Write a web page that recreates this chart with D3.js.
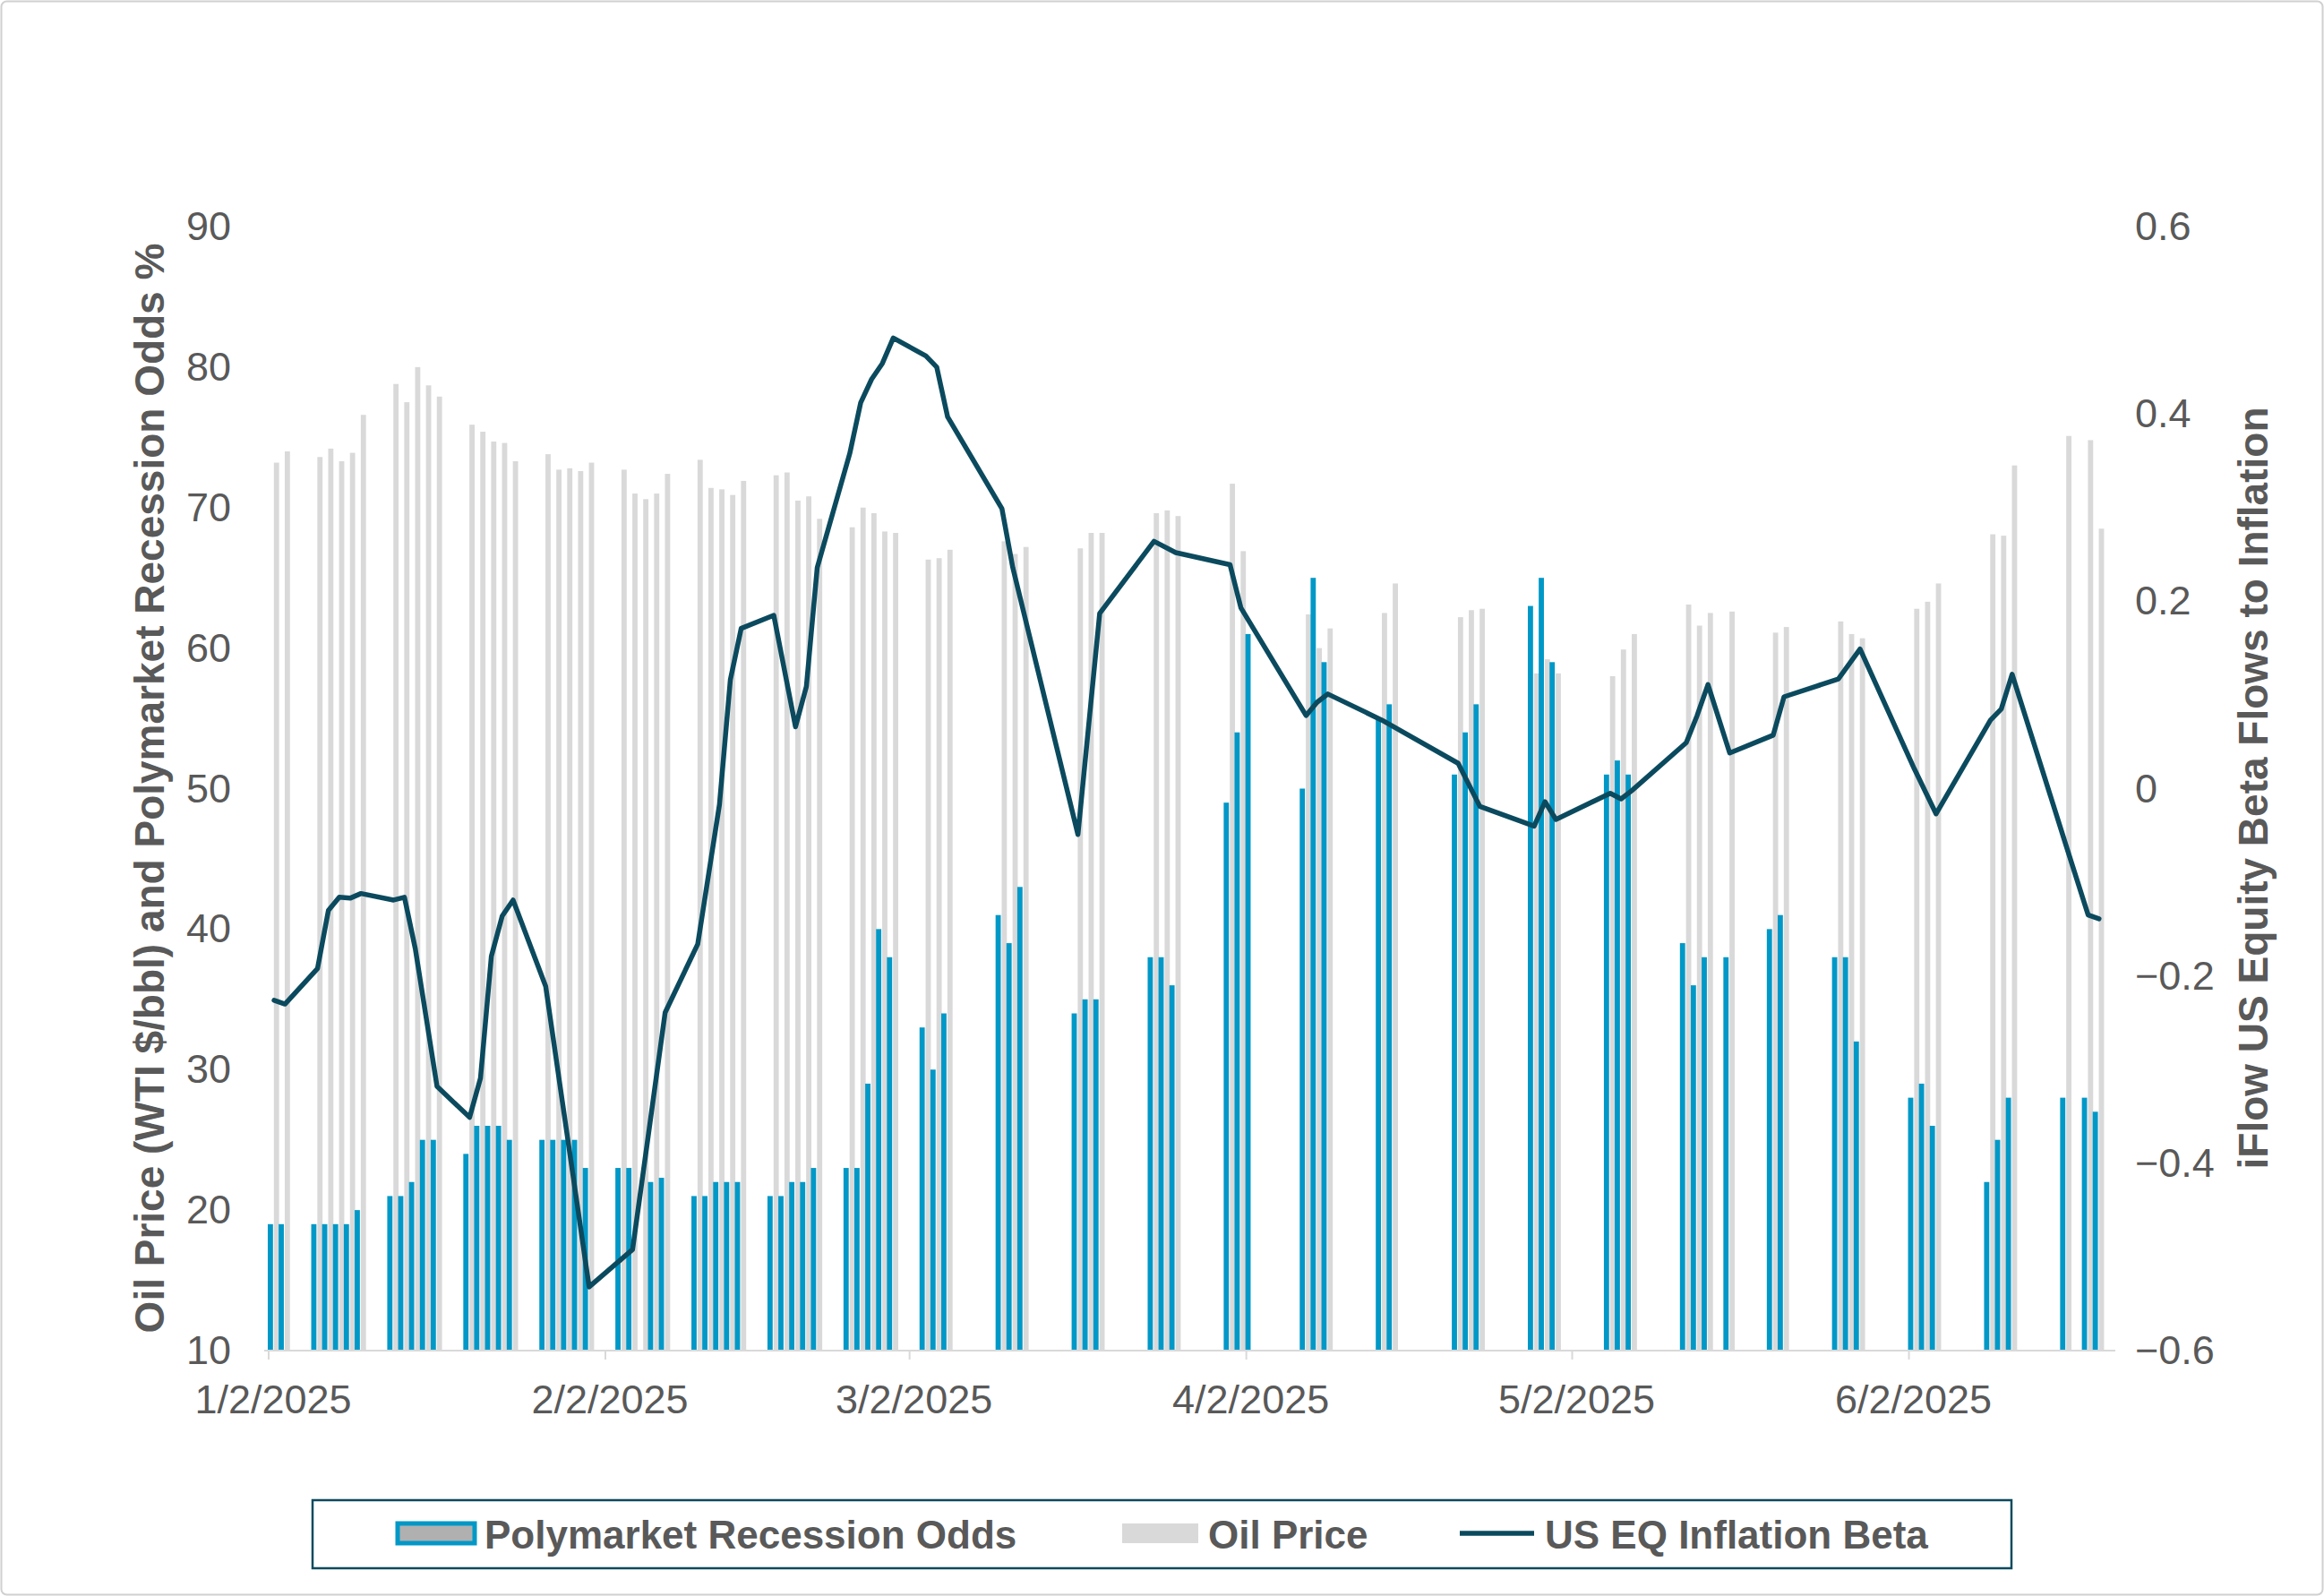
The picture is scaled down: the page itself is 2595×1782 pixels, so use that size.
<!DOCTYPE html>
<html><head><meta charset="utf-8">
<script src="https://cdn.jsdelivr.net/npm/d3@7"></script>
<style>body{margin:0;background:#fff}svg{display:block}</style></head>
<body><svg id="c" width="2595" height="1782"></svg>
<script>
// Daily bars: date, Polymarket recession odds (%), WTI oil price ($/bbl)
const barDates = ["2025-01-02","2025-01-03","2025-01-06","2025-01-07","2025-01-08","2025-01-09","2025-01-10","2025-01-13","2025-01-14","2025-01-15","2025-01-16","2025-01-17","2025-01-20","2025-01-21","2025-01-22","2025-01-23","2025-01-24","2025-01-27","2025-01-28","2025-01-29","2025-01-30","2025-01-31","2025-02-03","2025-02-04","2025-02-05","2025-02-06","2025-02-07","2025-02-10","2025-02-11","2025-02-12","2025-02-13","2025-02-14","2025-02-17","2025-02-18","2025-02-19","2025-02-20","2025-02-21","2025-02-24","2025-02-25","2025-02-26","2025-02-27","2025-02-28","2025-03-03","2025-03-04","2025-03-05","2025-03-10","2025-03-11","2025-03-12","2025-03-17","2025-03-18","2025-03-19","2025-03-24","2025-03-25","2025-03-26","2025-03-31","2025-04-01","2025-04-02","2025-04-07","2025-04-08","2025-04-09","2025-04-14","2025-04-15","2025-04-21","2025-04-22","2025-04-23","2025-04-28","2025-04-29","2025-04-30","2025-05-05","2025-05-06","2025-05-07","2025-05-12","2025-05-13","2025-05-14","2025-05-16","2025-05-20","2025-05-21","2025-05-26","2025-05-27","2025-05-28","2025-06-02","2025-06-03","2025-06-04","2025-06-09","2025-06-10","2025-06-11","2025-06-16","2025-06-18","2025-06-19"];
const recessionOdds = [19,19,19,19,19,19,20,21,21,22,25,25,24,26,26,26,25,25,25,25,25,23,23,23,null,22,22.3,21,21,22,22,22,21,21,22,22,23,23,23,29,40,38,33,30,34,41,39,43,34,35,35,38,38,36,49,54,61,50,65,59,55,56,51,54,56,63,65,59,51,52,51,39,36,38,38,40,41,38,38,32,28,29,26,22,25,28,28,28,27];
const oilPrice = [73.2,74.0,73.6,74.2,73.3,73.9,76.6,78.8,77.5,80.0,78.7,77.9,75.9,75.4,74.7,74.6,73.3,73.8,72.7,72.8,72.6,73.2,72.7,71.0,70.6,71.0,72.4,73.4,71.4,71.3,70.9,71.9,72.3,72.5,70.5,70.8,69.2,68.6,70.0,69.6,68.3,68.2,66.3,66.4,67.0,67.6,66.7,67.2,67.1,68.2,68.2,69.6,69.8,69.4,71.7,66.9,null,62.4,60.0,61.4,62.5,64.6,62.2,62.7,62.8,58.2,59.2,58.2,58.0,59.9,61.0,63.1,61.6,62.5,62.6,61.1,61.5,61.9,61.0,60.7,62.8,63.3,64.6,68.1,68.0,73.0,75.1,74.8,68.5];
// Line: iFlow US equity beta flows to inflation
const betaDates = ["2025-01-02","2025-01-03","2025-01-06","2025-01-07","2025-01-08","2025-01-09","2025-01-10","2025-01-13","2025-01-14","2025-01-15","2025-01-17","2025-01-20","2025-01-21","2025-01-22","2025-01-23","2025-01-24","2025-01-27","2025-01-31","2025-02-04","2025-02-05","2025-02-07","2025-02-10","2025-02-12","2025-02-13","2025-02-14","2025-02-17","2025-02-19","2025-02-20","2025-02-21","2025-02-24","2025-02-25","2025-02-26","2025-02-27","2025-02-28","2025-03-03","2025-03-04","2025-03-05","2025-03-10","2025-03-11","2025-03-17","2025-03-19","2025-03-24","2025-03-26","2025-03-31","2025-04-01","2025-04-07","2025-04-08","2025-04-09","2025-04-14","2025-04-21","2025-04-23","2025-04-28","2025-04-29","2025-04-30","2025-05-05","2025-05-06","2025-05-07","2025-05-12","2025-05-13","2025-05-14","2025-05-16","2025-05-20","2025-05-21","2025-05-26","2025-05-28","2025-06-02","2025-06-04","2025-06-09","2025-06-10","2025-06-11","2025-06-16","2025-06-18","2025-06-19"];
const betaValues = [-0.226,-0.230,-0.192,-0.130,-0.116,-0.117,-0.112,-0.119,-0.116,-0.171,-0.318,-0.351,-0.309,-0.179,-0.136,-0.119,-0.211,-0.532,-0.492,-0.408,-0.239,-0.166,-0.017,0.116,0.171,0.185,0.066,0.109,0.236,0.358,0.412,0.437,0.454,0.481,0.462,0.450,0.397,0.299,0.236,-0.049,0.187,0.264,0.252,0.239,0.193,0.078,0.092,0.101,0.073,0.027,-0.019,-0.040,-0.014,-0.033,-0.005,-0.011,-0.002,0.049,0.078,0.111,0.038,0.057,0.098,0.117,0.149,0.021,-0.027,0.073,0.085,0.122,-0.062,-0.135,-0.139];
const leftTicks = [10,20,30,40,50,60,70,80,90];
const rightTicks = [-0.6,-0.4,-0.2,0,0.2,0.4,0.6];
const xTickLabels = ["2025-01-02","2025-02-02","2025-03-02","2025-04-02","2025-05-02","2025-06-02"];

const P = d3.timeParse("%Y-%m-%d");
const fmtDate = d3.timeFormat("%-m/%-d/%Y");
const svg = d3.select("#c");
const FONT = "'Liberation Sans', Arial, sans-serif";
const TXT = "#595959", BLUE = "#0098C7", GRAY = "#D9D9D9", LINE = "#0B4A5E";

svg.append("rect").attr("x",1.5).attr("y",1.5).attr("width",2592).attr("height",1779)
  .attr("rx",6).attr("fill","#fff").attr("stroke","#d0d0d0").attr("stroke-width",2);

const x = d3.scaleTime().domain([P("2025-01-02"), P("2025-06-21")]).range([300, 2362]);
const yL = d3.scaleLinear().domain([10,90]).range([1508,253]);
const yR = d3.scaleLinear().domain([-0.6,0.6]).range([1508,253]);
const day = x(P("2025-01-03")) - x(P("2025-01-02"));
const bw = day*0.48;

const bars = barDates.map((d,i)=>({d:P(d), p:recessionOdds[i], o:oilPrice[i]}));
const g = svg.append("g");
g.selectAll(".oil").data(bars.filter(b=>b.o!=null)).join("rect")
  .attr("x",b=>x(b.d)+bw).attr("width",bw).attr("y",b=>yL(b.o)).attr("height",b=>yL(10)-yL(b.o)).attr("fill",GRAY);
g.selectAll(".pm").data(bars.filter(b=>b.p!=null)).join("rect")
  .attr("x",b=>x(b.d)-1).attr("width",bw).attr("y",b=>yL(b.p)).attr("height",b=>yL(10)-yL(b.p)).attr("fill",BLUE);

// x axis
svg.append("line").attr("x1",295).attr("x2",2362).attr("y1",1508).attr("y2",1508).attr("stroke",GRAY).attr("stroke-width",2);
const xa = svg.append("g");
xTickLabels.forEach(s=>{
  const xx = x(P(s));
  xa.append("line").attr("x1",xx).attr("x2",xx).attr("y1",1508).attr("y2",1518).attr("stroke",GRAY).attr("stroke-width",2);
  xa.append("text").attr("x",xx+5).attr("y",1578).attr("text-anchor","middle").attr("font-family",FONT)
    .attr("font-size",45).attr("fill",TXT).text(fmtDate(P(s)));
});
leftTicks.forEach(t=>svg.append("text").attr("x",258).attr("y",yL(t)+15).attr("text-anchor","end")
  .attr("font-family",FONT).attr("font-size",45).attr("fill",TXT).text(t));
rightTicks.forEach(t=>svg.append("text").attr("x",2384).attr("y",yR(t)+15).attr("text-anchor","start")
  .attr("font-family",FONT).attr("font-size",45).attr("fill",TXT).text(t===0?"0":d3.format(".1f")(t)));

svg.append("text").attr("transform","translate(183,880) rotate(-90)").attr("text-anchor","middle")
  .attr("font-family",FONT).attr("font-size",46).attr("font-weight","bold").attr("fill",TXT)
  .text("Oil Price (WTI $/bbl) and Polymarket Recession Odds %");
svg.append("text").attr("transform","translate(2532,880) rotate(-90)").attr("text-anchor","middle")
  .attr("font-family",FONT).attr("font-size",46).attr("font-weight","bold").attr("fill",TXT)
  .text("iFlow US Equity Beta Flows to Inflation");

// line
const pts = betaDates.map((d,i)=>[x(P(d))+day/2, yR(betaValues[i])]);
svg.append("path").attr("d",d3.line()(pts)).attr("fill","none").attr("stroke",LINE)
  .attr("stroke-width",5.5).attr("stroke-linejoin","round").attr("stroke-linecap","round");

// legend
const lg = svg.append("g");
lg.append("rect").attr("x",349).attr("y",1675).attr("width",1897).attr("height",76).attr("fill","none").attr("stroke",LINE).attr("stroke-width",2.5);
lg.append("rect").attr("x",444).attr("y",1701).attr("width",86).attr("height",22).attr("fill","#b0b0b0").attr("stroke",BLUE).attr("stroke-width",5);
lg.append("text").attr("x",541).attr("y",1729).attr("font-family",FONT).attr("font-size",44).attr("font-weight","bold").attr("fill",TXT).text("Polymarket Recession Odds");
lg.append("rect").attr("x",1253).attr("y",1701).attr("width",85).attr("height",22).attr("fill",GRAY);
lg.append("text").attr("x",1349).attr("y",1729).attr("font-family",FONT).attr("font-size",44).attr("font-weight","bold").attr("fill",TXT).text("Oil Price");
lg.append("line").attr("x1",1630).attr("x2",1713).attr("y1",1712).attr("y2",1712).attr("stroke",LINE).attr("stroke-width",5.5);
lg.append("text").attr("x",1725).attr("y",1729).attr("font-family",FONT).attr("font-size",44).attr("font-weight","bold").attr("fill",TXT).text("US EQ Inflation Beta");
</script></body></html>
